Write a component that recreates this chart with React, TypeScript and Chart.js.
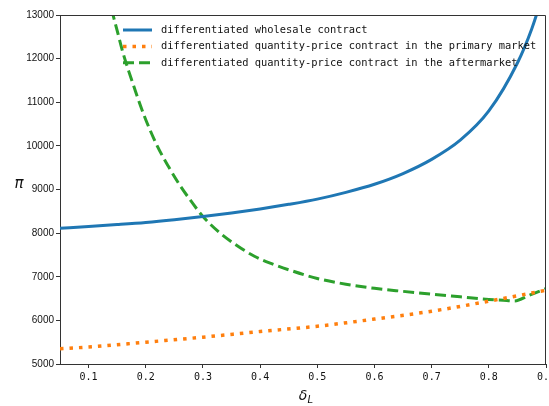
import React, { useEffect, useRef } from 'react';
import { Chart, registerables } from 'chart.js';

Chart.register(...registerables);

const wholesaleDelta = [0.05, 0.1, 0.15, 0.2, 0.25, 0.3, 0.35, 0.4, 0.45, 0.5, 0.55, 0.6, 0.65, 0.7, 0.75, 0.8, 0.85, 0.875, 0.9];
const wholesaleProfit = [8110, 8150, 8195, 8245, 8308, 8380, 8462, 8555, 8660, 8780, 8935, 9120, 9365, 9690, 10130, 10800, 11900, 12680, 13700];

const primaryDelta = [0.05, 0.1, 0.2, 0.3, 0.4, 0.5, 0.6, 0.7, 0.8, 0.9];
const primaryProfit = [5350, 5390, 5500, 5615, 5745, 5865, 6030, 6210, 6440, 6690];

const afterDelta = [0.14, 0.15, 0.16, 0.17, 0.18, 0.19, 0.2, 0.22, 0.24, 0.26, 0.28, 0.3, 0.33, 0.36, 0.39, 0.42, 0.45, 0.5, 0.55, 0.6, 0.65, 0.7, 0.75, 0.8, 0.825, 0.845, 0.87, 0.9];
const afterProfit = [13140, 12640, 12140, 11720, 11330, 10950, 10600, 10000, 9520, 9090, 8720, 8380, 8000, 7710, 7470, 7300, 7160, 6960, 6830, 6735, 6665, 6600, 6540, 6480, 6460, 6445, 6570, 6730];

const xTickValues = [0.1, 0.2, 0.3, 0.4, 0.5, 0.6, 0.7, 0.8, 0.9];
const yTickValues = [5000, 6000, 7000, 8000, 9000, 10000, 11000, 12000, 13000];

const seriesLabels = [
  'differentiated wholesale contract',
  'differentiated quantity-price contract in the primary market',
  'differentiated quantity-price contract in the aftermarket',
];
const seriesColors = ['#1f77b4', '#ff7f0e', '#2ca02c'];
const seriesDash = [[], [3.5, 6], [11, 5]];
const seriesWidth = [3, 3.5, 3];

const toPoints = (xs: number[], ys: number[]) => xs.map((x, i) => ({ x, y: ys[i] }));

export default function App() {
  const canvasRef = useRef<HTMLCanvasElement | null>(null);

  useEffect(() => {
    document.body.style.margin = '0';
    const canvas = canvasRef.current;
    if (!canvas) return;

    const decorPlugin = {
      id: 'decor',
      afterDraw(chart: any) {
        const ctx = chart.ctx;
        const a = chart.chartArea;
        ctx.save();
        // top and right spines
        ctx.strokeStyle = '#333';
        ctx.lineWidth = 1;
        ctx.setLineDash([]);
        ctx.beginPath();
        ctx.moveTo(Math.round(a.left) + 0.5, Math.round(a.top) + 0.5);
        ctx.lineTo(Math.round(a.right) - 0.5, Math.round(a.top) + 0.5);
        ctx.lineTo(Math.round(a.right) - 0.5, Math.round(a.bottom) + 0.5);
        ctx.stroke();

        // legend
        const legendX0 = 123;
        const legendX1 = 152;
        const textX = 161;
        const rowY0 = 30;
        const rowStep = 16.4;
        for (let i = 0; i < seriesLabels.length; i++) {
          const y = rowY0 + i * rowStep;
          ctx.beginPath();
          ctx.strokeStyle = seriesColors[i];
          ctx.lineWidth = seriesWidth[i];
          ctx.lineCap = 'butt';
          ctx.setLineDash(seriesDash[i]);
          ctx.moveTo(legendX0, y);
          ctx.lineTo(legendX1, y);
          ctx.stroke();
          ctx.setLineDash([]);
          ctx.fillStyle = '#111';
          ctx.font = '10.4px "DejaVu Sans Mono"';
          ctx.textBaseline = 'middle';
          ctx.textAlign = 'left';
          ctx.fillText(seriesLabels[i], textX, y);
        }

        // axis titles
        ctx.fillStyle = '#111';
        ctx.textBaseline = 'middle';
        ctx.textAlign = 'center';
        ctx.font = 'italic 15px "DejaVu Sans"';
        ctx.fillText('π', 19, 184);
        const cx = (a.left + a.right) / 2;
        ctx.font = 'italic 14px "DejaVu Sans"';
        ctx.fillText('δ', cx, 396);
        ctx.font = 'italic 10px "DejaVu Sans"';
        ctx.textAlign = 'left';
        ctx.fillText('L', cx + 4.5, 400);
        ctx.restore();
      },
    };

    const chart = new Chart(canvas, {
      type: 'line',
      data: {
        datasets: [
          {
            label: seriesLabels[0],
            data: toPoints(wholesaleDelta, wholesaleProfit),
            borderColor: seriesColors[0],
            borderWidth: seriesWidth[0],
            borderDash: seriesDash[0],
            pointRadius: 0,
            cubicInterpolationMode: 'monotone',
            clip: 0,
          },
          {
            label: seriesLabels[1],
            data: toPoints(primaryDelta, primaryProfit),
            borderColor: seriesColors[1],
            borderWidth: seriesWidth[1],
            borderDash: seriesDash[1],
            pointRadius: 0,
            cubicInterpolationMode: 'monotone',
            clip: 0,
          },
          {
            label: seriesLabels[2],
            data: toPoints(afterDelta, afterProfit),
            borderColor: seriesColors[2],
            borderWidth: seriesWidth[2],
            borderDash: seriesDash[2],
            pointRadius: 0,
            cubicInterpolationMode: 'monotone',
            clip: 0,
          },
        ],
      },
      options: {
        responsive: false,
        animation: false,
        parsing: false as any,
        layout: { padding: { top: 15, right: 3, left: 0, bottom: 0 } },
        plugins: {
          legend: { display: false },
          tooltip: { enabled: false },
        },
        scales: {
          x: {
            type: 'linear',
            min: 0.05,
            max: 0.9,
            afterBuildTicks: (scale: any) => {
              scale.ticks = xTickValues.map((v) => ({ value: v }));
            },
            afterFit: (scale: any) => {
              scale.height = 42;
              scale.paddingLeft = 0;
              scale.paddingRight = 0;
            },
            grid: {
              display: true,
              drawOnChartArea: false,
              drawTicks: true,
              tickLength: 4,
              color: '#333',
            },
            border: { display: true, color: '#333', width: 1 },
            ticks: {
              autoSkip: false,
              maxRotation: 0,
              padding: 3,
              color: '#111',
              font: { family: 'DejaVu Sans Mono', size: 10 },
              callback: (v: any) => Number(v).toFixed(1),
            },
          },
          y: {
            type: 'linear',
            min: 5000,
            max: 13000,
            afterBuildTicks: (scale: any) => {
              scale.ticks = yTickValues.map((v) => ({ value: v }));
            },
            afterFit: (scale: any) => {
              scale.width = 60;
              scale.paddingTop = 0;
              scale.paddingBottom = 0;
            },
            grid: {
              display: true,
              drawOnChartArea: false,
              drawTicks: true,
              tickLength: 4,
              color: '#333',
            },
            border: { display: true, color: '#333', width: 1 },
            ticks: {
              autoSkip: false,
              padding: 2,
              color: '#111',
              font: { family: 'Liberation Sans', size: 10 },
              callback: (v: any) => String(v),
            },
          },
        },
      },
      plugins: [decorPlugin],
    });

    return () => {
      chart.destroy();
    };
  }, []);

  return (
    <div style={{ width: 549, height: 406, background: '#fff' }}>
      <canvas ref={canvasRef} width={549} height={406} />
    </div>
  );
}
